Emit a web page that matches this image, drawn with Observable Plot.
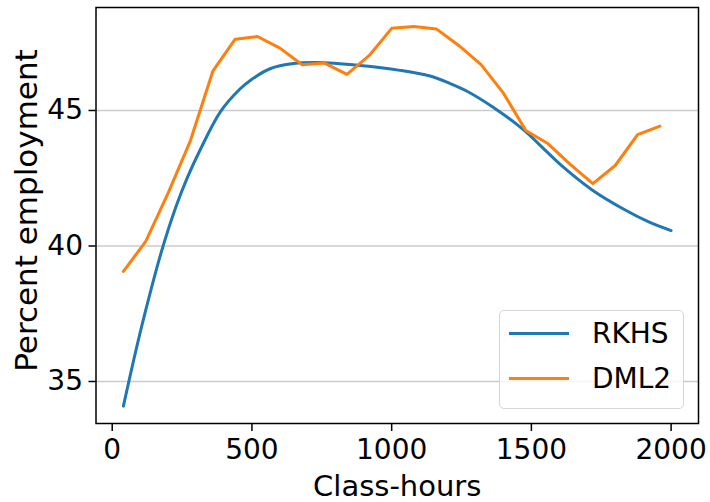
<!DOCTYPE html>
<html><head><meta charset="utf-8">
<script src="https://cdn.jsdelivr.net/npm/d3@7"></script>
<script src="https://cdn.jsdelivr.net/npm/@observablehq/plot@0.6"></script>
<style>
body{margin:0;background:#fff;}
#wrap{position:relative;width:710px;height:502px;font-family:"DejaVu Sans",sans-serif;}
#legend{position:absolute;left:499px;top:310px;width:183px;height:97px;border:1.5px solid #d6d6d6;border-radius:5px;background:rgba(255,255,255,0.8);}
.item{position:absolute;left:0;height:40px;width:183px;}
.item .sw{position:absolute;left:9px;top:18px;width:60px;height:3px;}
.item .lab{position:absolute;left:92px;top:0;font-size:28px;line-height:40px;color:#000;}
</style>
</head><body><div id="wrap"></div>
<script>
// Series data
const rkhsX = [40, 77, 113, 175, 230, 270, 315, 387, 458, 494, 565, 649, 731, 887, 1030, 1137, 1208, 1268, 1363, 1470, 1553, 1601, 1720, 1839, 1922, 2000];
const rkhsY = [34.09, 35.8, 37.35, 39.75, 41.5, 42.55, 43.55, 44.95, 45.8, 46.11, 46.54, 46.73, 46.77, 46.66, 46.48, 46.27, 46.0, 45.72, 45.12, 44.3, 43.5, 43.03, 42.05, 41.31, 40.88, 40.57];
const dmlX = [40, 120, 200, 280, 360, 440, 520, 600, 680, 760, 840, 920, 1000, 1080, 1160, 1240, 1320, 1400, 1480, 1560, 1640, 1720, 1800, 1880, 1960];
const dmlY = [39.06, 40.17, 41.95, 43.89, 46.45, 47.63, 47.73, 47.30, 46.69, 46.75, 46.33, 47.03, 48.03, 48.10, 48.01, 47.40, 46.69, 45.64, 44.26, 43.77, 43.00, 42.30, 42.97, 44.11, 44.42];
const seriesNames = ["RKHS", "DML2"];
const seriesColors = ["#1f77b4", "#ff7f0e"];
const xTicks = [0, 500, 1000, 1500, 2000];
const yTicks = [35, 40, 45];
const xLabel = "Class-hours";
const yLabel = "Percent employment";

const rkhs = rkhsX.map((x, i) => ({x, y: rkhsY[i]}));
const dml = dmlX.map((x, i) => ({x, y: dmlY[i]}));

const chart = Plot.plot({
  width: 710,
  height: 502,
  marginLeft: 95.5,
  marginRight: 12,
  marginTop: 7,
  marginBottom: 79,
  style: {fontFamily: "DejaVu Sans, sans-serif", fontSize: "28px", color: "#000", background: "#fff"},
  x: {domain: [-58, 2098]},
  y: {domain: [33.45, 48.8]},
  marks: [
    Plot.gridY(yTicks, {stroke: "#cccccc", strokeOpacity: 1, strokeWidth: 1.5}),
    Plot.line(rkhs, {x: "x", y: "y", stroke: seriesColors[0], strokeWidth: 3, curve: "catmull-rom"}),
    Plot.line(dml, {x: "x", y: "y", stroke: seriesColors[1], strokeWidth: 3}),
    Plot.frame({stroke: "#000", strokeWidth: 1.5}),
    Plot.axisX(xTicks, {tickSize: 8, tickPadding: 8, strokeWidth: 1.5, label: null, fill: "#000", tickFormat: d => String(d)}),
    Plot.axisY(yTicks, {tickSize: 7, tickPadding: 6, strokeWidth: 1.5, label: null, fill: "#000", tickFormat: d => String(d)}),
    Plot.text([xLabel], {frameAnchor: "bottom", dy: 63, text: d => d, fill: "#000", lineAnchor: "middle", textAnchor: "middle", fontSize: 29}),
    Plot.text([yLabel], {frameAnchor: "left", dx: -69, dy: -5, rotate: -90, text: d => d, fill: "#000", lineAnchor: "middle", textAnchor: "middle", fontSize: 31})
  ]
});
const wrap = document.getElementById("wrap");
wrap.appendChild(chart);

const legend = document.createElement("div");
legend.id = "legend";
seriesNames.forEach((name, i) => {
  const it = document.createElement("div");
  it.className = "item";
  it.style.top = (3 + i * 45) + "px";
  it.innerHTML = `<div class="sw" style="background:${seriesColors[i]}"></div><div class="lab">${name}</div>`;
  legend.appendChild(it);
});
wrap.appendChild(legend);
</script>
</body></html>
